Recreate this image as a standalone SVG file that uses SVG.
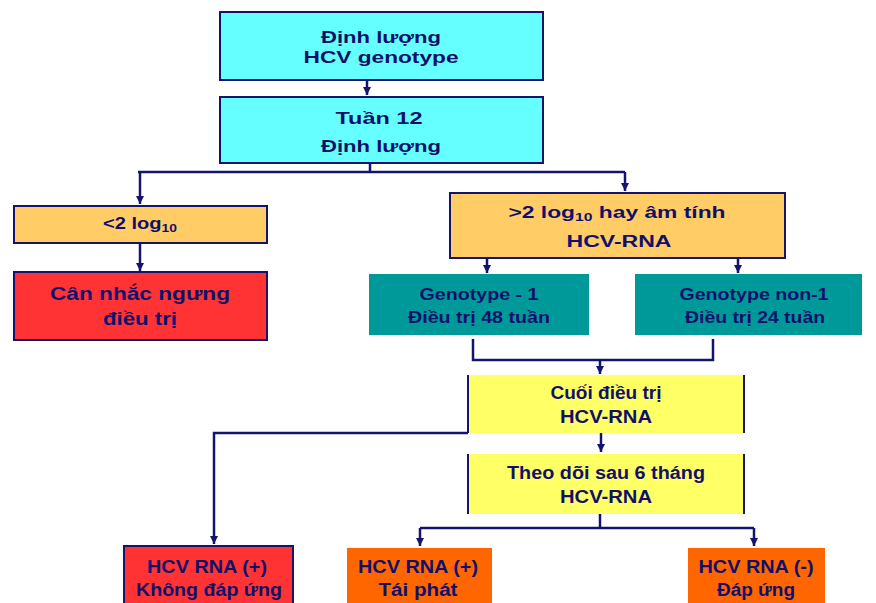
<svg xmlns="http://www.w3.org/2000/svg" width="876" height="603" viewBox="0 0 876 603">
<defs>
<marker id="arr" markerUnits="userSpaceOnUse" markerWidth="9" markerHeight="8" refX="8" refY="4" orient="auto">
<path d="M0,0 L8,4 L0,8 Z" fill="#14146e"/>
</marker>
<style>
.t{font-family:"Liberation Sans",Arial,sans-serif;font-weight:bold;fill:#10106b;text-anchor:middle}
.s16{font-size:16px}
.s18{font-size:18px}
.c{stroke:#14146e;stroke-width:2.5;fill:none}
.cyan{fill:#66ffff;stroke:#14146e;stroke-width:2}
.lor{fill:#ffcc66;stroke:#14146e;stroke-width:2}
.red{fill:#ff3333;stroke:#14146e;stroke-width:2}
.teal{fill:#009999}
.yel{fill:#ffff66}
.org{fill:#ff6600}
.edge{stroke:#14146e;stroke-width:2}
</style>
</defs>
<rect width="876" height="603" fill="#ffffff"/>

<g id="connectors">
<path class="c" d="M367,80 V95" marker-end="url(#arr)"/>
<path class="c" d="M370,163 V172 M138,172 H625"/>
<path class="c" d="M140,172 V204" marker-end="url(#arr)"/>
<path class="c" d="M625,172 V191" marker-end="url(#arr)"/>
<path class="c" d="M140,243 V271" marker-end="url(#arr)"/>
<path class="c" d="M487,258 V273" marker-end="url(#arr)"/>
<path class="c" d="M738,258 V273" marker-end="url(#arr)"/>
<path class="c" d="M473,339 V360 H713 V339"/>
<path class="c" d="M600,360 V374" marker-end="url(#arr)"/>
<path class="c" d="M601,433 V452" marker-end="url(#arr)"/>
<path class="c" d="M468,433 H214 V544" marker-end="url(#arr)"/>
<path class="c" d="M600,514 V528 M420,528 H754"/>
<path class="c" d="M420,528 V546" marker-end="url(#arr)"/>
<path class="c" d="M754,528 V546" marker-end="url(#arr)"/>
</g>

<g id="n1">
<rect class="cyan" x="220" y="12" width="323" height="68"/>
<text class="t s16" x="381" y="43" textLength="120" lengthAdjust="spacingAndGlyphs">Định lượng</text>
<text class="t s16" x="381" y="63" textLength="155" lengthAdjust="spacingAndGlyphs">HCV genotype</text>
</g>

<g id="n2">
<rect class="cyan" x="220" y="97" width="323" height="66"/>
<text class="t s16" x="379" y="124" textLength="87" lengthAdjust="spacingAndGlyphs">Tuần 12</text>
<text class="t s16" x="381" y="152" textLength="120" lengthAdjust="spacingAndGlyphs">Định lượng</text>
</g>

<g id="n3">
<rect class="lor" x="14" y="206" width="253" height="37"/>
<text class="t s16" x="140" y="229" textLength="74" lengthAdjust="spacingAndGlyphs">&lt;2 log<tspan font-size="11" dy="3">10</tspan></text>
</g>

<g id="n4">
<rect class="red" x="14" y="272" width="253" height="68"/>
<text class="t s18" x="140" y="300" textLength="180" lengthAdjust="spacingAndGlyphs">Cân nhắc ngưng</text>
<text class="t s18" x="140" y="325" textLength="74" lengthAdjust="spacingAndGlyphs">điều trị</text>
</g>

<g id="n5">
<rect class="lor" x="450" y="193" width="335" height="65"/>
<text class="t s16" x="617" y="218" textLength="217" lengthAdjust="spacingAndGlyphs">&gt;2 log<tspan font-size="11" dy="3">10</tspan><tspan dy="-3"> hay âm tính</tspan></text>
<text class="t s16" x="619" y="247" textLength="105" lengthAdjust="spacingAndGlyphs">HCV-RNA</text>
</g>

<g id="n6">
<rect class="teal" x="369" y="274" width="220" height="61"/>
<text class="t s16" x="479" y="300" textLength="119" lengthAdjust="spacingAndGlyphs">Genotype - 1</text>
<text class="t s16" x="479" y="323" textLength="142" lengthAdjust="spacingAndGlyphs">Điều trị 48 tuần</text>
</g>

<g id="n7">
<rect class="teal" x="635" y="274" width="227" height="61"/>
<text class="t s16" x="754" y="300" textLength="149" lengthAdjust="spacingAndGlyphs">Genotype non-1</text>
<text class="t s16" x="755" y="323" textLength="140" lengthAdjust="spacingAndGlyphs">Điều trị 24 tuần</text>
</g>

<g id="n8">
<rect class="yel" x="468" y="375" width="276" height="58"/>
<path class="edge" d="M468,375 V433 M744,375 V433"/>
<text class="t s18" x="606" y="399" textLength="111" lengthAdjust="spacingAndGlyphs">Cuối điều trị</text>
<text class="t s18" x="606" y="423" textLength="92" lengthAdjust="spacingAndGlyphs">HCV-RNA</text>
</g>

<g id="n9">
<rect class="yel" x="468" y="454" width="276" height="60"/>
<path class="edge" d="M468,454 V514 M744,454 V514"/>
<text class="t s18" x="606" y="479" textLength="198" lengthAdjust="spacingAndGlyphs">Theo dõi sau 6 tháng</text>
<text class="t s18" x="606" y="503" textLength="92" lengthAdjust="spacingAndGlyphs">HCV-RNA</text>
</g>

<g id="n10">
<rect class="red" x="124" y="546" width="169" height="62"/>
<text class="t s18" x="207" y="573" textLength="120" lengthAdjust="spacingAndGlyphs">HCV RNA (+)</text>
<text class="t s18" x="209" y="596" textLength="146" lengthAdjust="spacingAndGlyphs">Không đáp ứng</text>
</g>

<g id="n11">
<rect class="org" x="347" y="548" width="145" height="60"/>
<text class="t s18" x="418" y="573" textLength="120" lengthAdjust="spacingAndGlyphs">HCV RNA (+)</text>
<text class="t s18" x="418" y="596" textLength="79" lengthAdjust="spacingAndGlyphs">Tái phát</text>
</g>

<g id="n12">
<rect class="org" x="688" y="548" width="137" height="60"/>
<text class="t s18" x="756" y="573" textLength="115" lengthAdjust="spacingAndGlyphs">HCV RNA (-)</text>
<text class="t s18" x="756" y="596" textLength="78" lengthAdjust="spacingAndGlyphs">Đáp ứng</text>
</g>
</svg>
